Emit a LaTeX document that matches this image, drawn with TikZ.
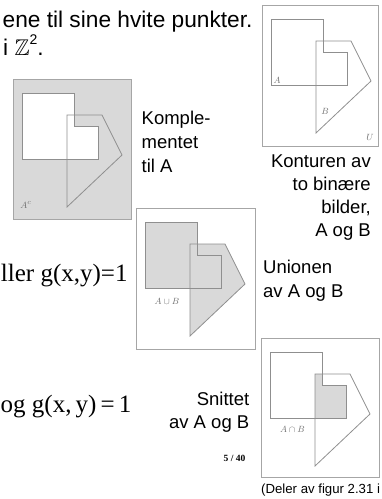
\documentclass[tikz,border=0pt]{standalone}
\usepackage{amssymb}
\usepackage{fontspec}
\setmainfont{Liberation Sans}
\newfontfamily\serif{Liberation Serif}
\definecolor{boxgray}{HTML}{A6A6A6}
\definecolor{linegray}{HTML}{8F8F8F}
\definecolor{fillgray}{HTML}{D9D9D9}
\definecolor{labgray}{HTML}{6E6E6E}
\tikzset{
  frame/.style={draw=boxgray, line width=0.9pt},
  outline/.style={draw=linegray, line width=0.8pt},
  setlab/.style={text=labgray, font=\fontsize{9.5}{10}\selectfont, inner sep=0pt},
  body/.style={font=\fontsize{22.7}{27}\selectfont, inner sep=0pt},
  lab/.style={font=\fontsize{18.5}{23.8}\selectfont, inner sep=0pt, align=left},
  labr/.style={font=\fontsize{18.5}{23}\selectfont, inner sep=0pt, align=right},
  eq/.style={font=\serif\fontsize{25}{30}\selectfont, inner sep=0pt},
}
\begin{document}
\begin{tikzpicture}[x=1pt,y=-1pt]
\useasboundingbox (0,0) rectangle (381,499);

% ---- texts ----
\node[body, anchor=base east] (t1) at (252.7,27) {ene til sine hvite punkter.};
\node[body, anchor=base west] (t2) at (3,55) {i $\mathbb{Z}$\raisebox{0.45em}{\fontsize{14}{14}\selectfont 2}.};
\node[eq, anchor=base east] (e1) at (127.7,281) {ller g(x,y)=1};
\node[eq, anchor=base west] (e2) at (0.5,412) {og g(x,\,y)\,=\,1};

\node[lab, anchor=base west] (komp) at (141.5,172) {Komple-\\mentet\\til A};
\node[labr, anchor=base east] (kont) at (371,236) {Konturen av\\to binære\\bilder,\\A og B};
\node[lab, anchor=base west] (uni) at (263,297) {Unionen\\av A og B};
\node[labr, anchor=base east] (sni) at (249.5,428) {Snittet\\av A og B};
\node[font=\serif\bfseries\fontsize{9.5}{10}\selectfont, inner sep=0pt] (pg) at (234.5,458) {5 / 40};
\node[font=\fontsize{13.2}{15}\selectfont, inner sep=0pt, anchor=west] (ref) at (261,490) {(Deler av figur 2.31 i};

% ---- contour of A and B ----
\begin{scope}[shift={(262,5)}]
  \path[frame] (0,0) rectangle (116,141);
  \path[outline] (9,14) -- (61,14) -- (61,47) -- (85,47) -- (85,80) -- (9,80) -- cycle;
  \path[outline] (54,36) -- (89,36) -- (109,76) -- (54,128) -- cycle;
  \node[setlab] (la) at (15,75) {$A$};
  \node[setlab] (lb) at (63,106) {$B$};
  \node[setlab] (lu) at (108,132) {$U$};
\end{scope}

% ---- complement ----
\begin{scope}[shift={(13,79)}]
  \path[fill=fillgray] (0,0) rectangle (118,140);
  \path[fill=white] (9,14) -- (61,14) -- (61,47) -- (85,47) -- (85,80) -- (9,80) -- cycle;
  \path[outline] (9,14) -- (61,14) -- (61,47) -- (85,47) -- (85,80) -- (9,80) -- cycle;
  \path[outline] (54,36) -- (89,36) -- (109,76) -- (54,128) -- cycle;
  \path[frame] (0,0) rectangle (118,140);
  \node[setlab] (lac) at (13,126) {$A^c$};
\end{scope}

% ---- union ----
\begin{scope}[shift={(136,208)}]
  \path[frame] (0,0) rectangle (119,141);
  \path[fill=fillgray] (9,14) -- (61,14) -- (61,47) -- (85,47) -- (85,80) -- (9,80) -- cycle;
  \path[fill=fillgray] (54,36) -- (89,36) -- (109,76) -- (54,128) -- cycle;
  \path[outline] (9,14) -- (61,14) -- (61,47) -- (85,47) -- (85,80) -- (9,80) -- cycle;
  \path[outline] (54,36) -- (89,36) -- (109,76) -- (54,128) -- cycle;
  \node[setlab] (lun) at (31,93) {$A\cup B$};
\end{scope}

% ---- intersection ----
\begin{scope}[shift={(261,338)}]
  \path[frame] (0,0) rectangle (118,139);
  \path[fill=fillgray] (54,36) -- (61,36) -- (61,47) -- (85,47) -- (85,80) -- (54,80) -- cycle;
  \path[outline] (9,14) -- (61,14) -- (61,47) -- (85,47) -- (85,80) -- (9,80) -- cycle;
  \path[outline] (54,36) -- (89,36) -- (109,76) -- (54,128) -- cycle;
  \node[setlab] (lin) at (31.5,91) {$A\cap B$};
\end{scope}
\end{tikzpicture}
\end{document}
